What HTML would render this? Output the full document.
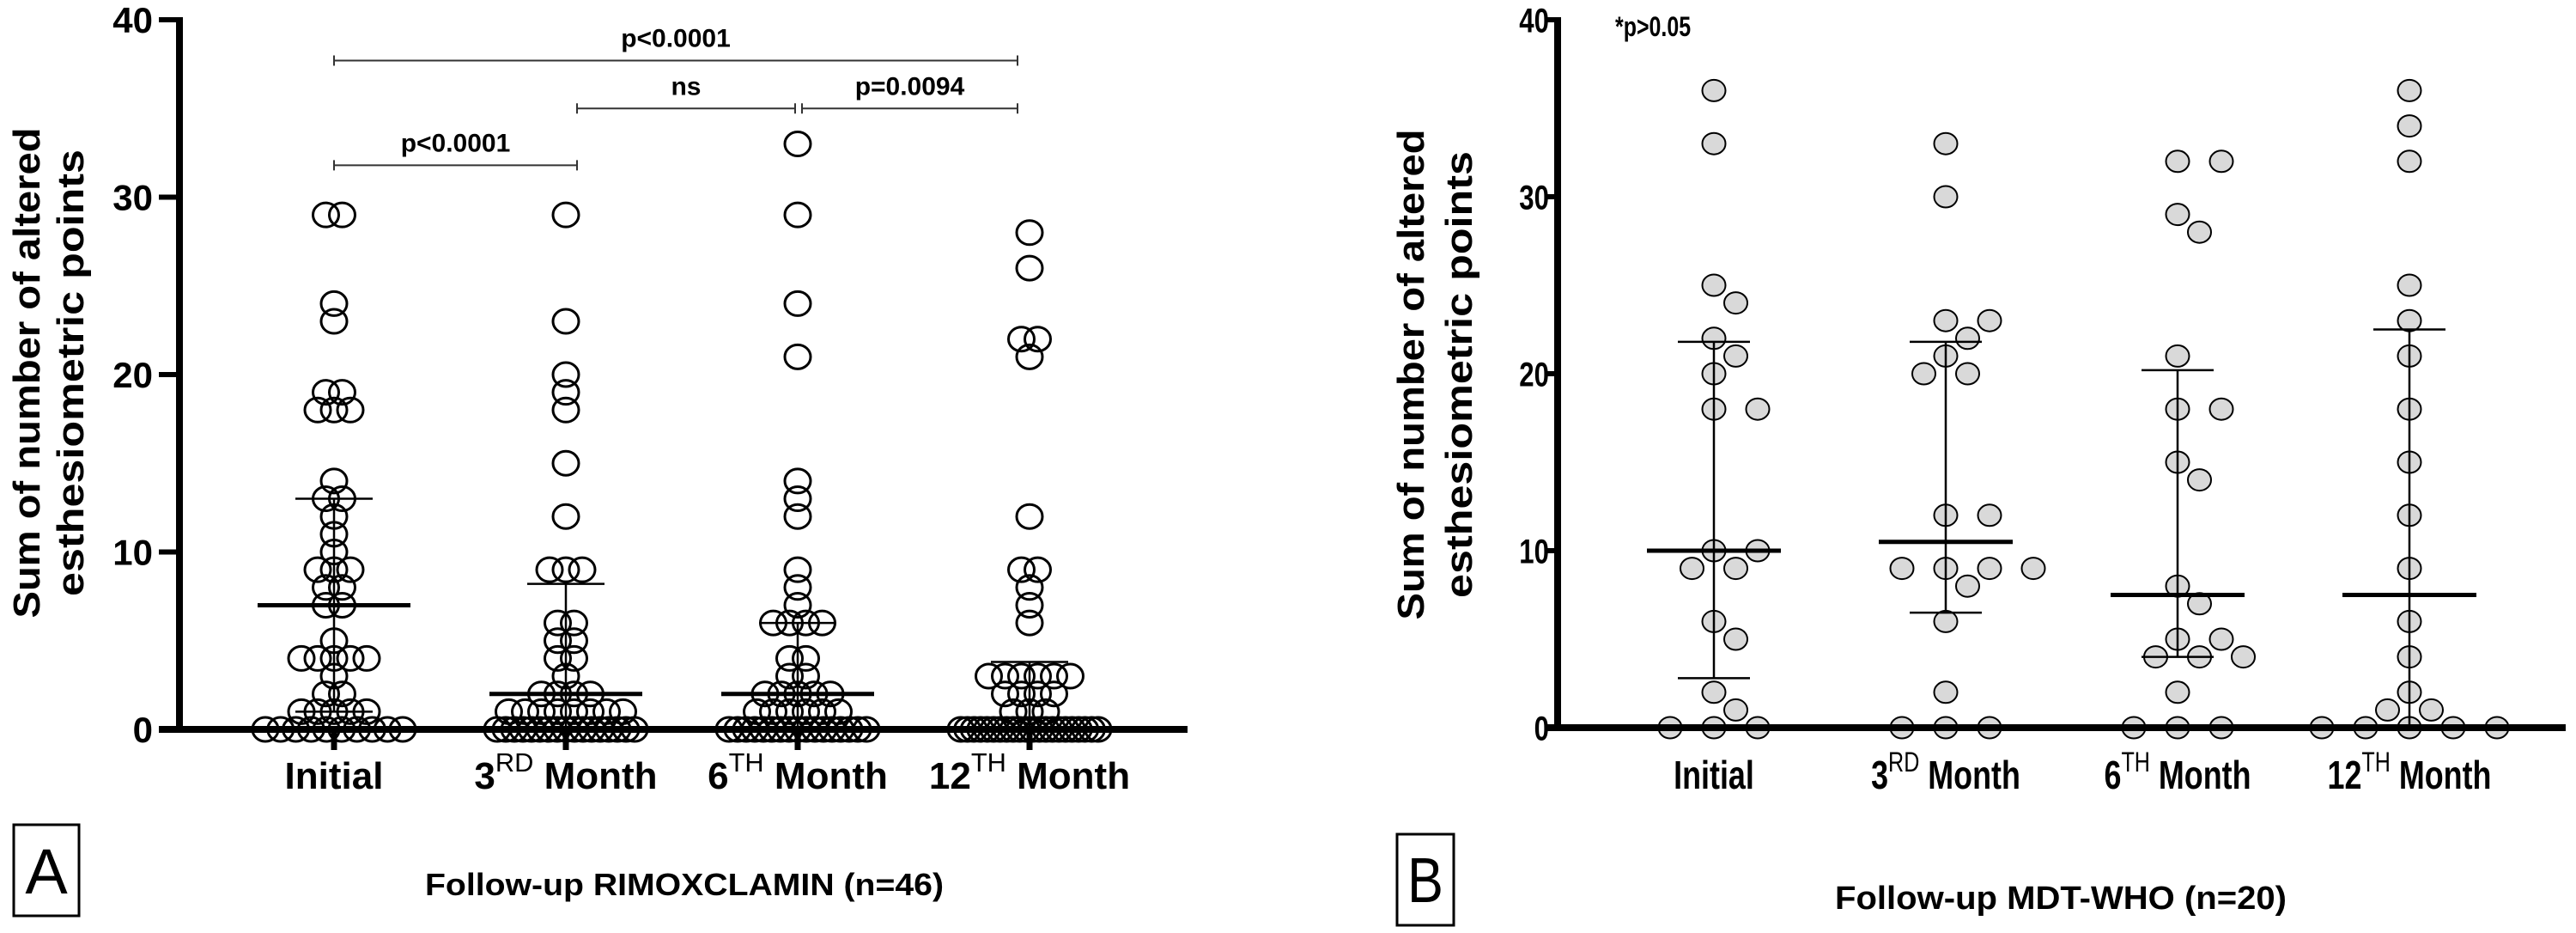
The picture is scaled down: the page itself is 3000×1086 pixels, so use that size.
<!DOCTYPE html>
<html><head><meta charset="utf-8">
<style>
html,body{margin:0;padding:0;background:#fff;}
svg{display:block;font-family:"Liberation Sans",Arial,sans-serif;}
</style></head>
<body>
<svg id="chart" width="3000" height="1086" viewBox="0 0 3000 1086">
  <rect x="0" y="0" width="3000" height="1086" fill="#fff"/>
  <g id="panelA"></g>
  <g id="panelB"></g>

  <rect x="16" y="960" width="76" height="106" fill="none" stroke="#000" stroke-width="3"/>
  <text x="54" y="1040" font-size="74" text-anchor="middle">A</text>
  <rect x="1627" y="971" width="66" height="106" fill="none" stroke="#000" stroke-width="3"/>
  <text x="1660" y="1050" font-size="74" text-anchor="middle" transform="translate(1660,0) scale(0.85,1) translate(-1660,0)">B</text>

  <text x="797" y="1042" font-size="36" font-weight="bold" text-anchor="middle" textLength="604" lengthAdjust="spacingAndGlyphs">Follow-up RIMOXCLAMIN (n=46)</text>
  <text x="2400" y="1058" font-size="38" font-weight="bold" text-anchor="middle" textLength="526" lengthAdjust="spacingAndGlyphs">Follow-up  MDT-WHO (n=20)</text>
</svg>
<script>
// ---------- DATA ----------
const categories = ["Initial", "3RD Month", "6TH Month", "12TH Month"];
const tickLabels = [0, 10, 20, 30, 40];

const rimoxInitial = [29,29,24,23,19,19,18,18,18,14,13,13,12,11,10,9,9,9,8,8,7,7,5,4,4,4,4,4,3,2,2,1,1,1,1,1,0,0,0,0,0,0,0,0,0,0];
const rimox3rd = [29,23,20,19,18,15,12,9,9,9,6,6,5,5,4,4,3,2,2,2,2,1,1,1,1,1,1,1,1,0,0,0,0,0,0,0,0,0,0,0,0,0,0,0,0,0];
const rimox6th = [33,29,24,21,14,13,12,9,8,7,6,6,6,6,4,4,3,3,2,2,2,2,2,1,1,1,1,1,1,0,0,0,0,0,0,0,0,0,0,0,0,0,0,0,0,0];
const rimox12th = [28,26,22,22,21,12,9,9,8,7,6,3,3,3,3,3,3,2,2,2,2,1,1,1,0,0,0,0,0,0,0,0,0,0,0,0,0,0,0,0,0,0,0,0,0,0];
const rimoxMedian = [7, 2, 2, 0];
const rimoxQ1 = [1, 0, 0, 0];
const rimoxQ3 = [13, 8.2, 6, 3.8];

const mdtInitial = [36,33,25,24,22,21,20,18,18,10,10,9,9,6,5,2,1,0,0,0];
const mdt3rd = [33,30,23,23,22,21,20,20,12,12,9,9,9,9,8,6,2,0,0,0];
const mdt6th = [32,32,29,28,21,18,18,15,14,8,7,5,5,4,4,4,2,0,0,0];
const mdt12th = [36,34,32,25,23,21,18,15,12,9,6,4,2,1,1,0,0,0,0,0];
const mdtMedian = [10, 10.5, 7.5, 7.5];
const mdtQ1 = [2.8, 6.5, 4, 0];
const mdtQ3 = [21.8, 21.8, 20.2, 22.5];

const sigLabels = ["p<0.0001", "ns", "p=0.0094", "p<0.0001"];
const sigFrom = [0, 1, 2, 0];
const sigTo = [1, 2, 3, 3];
const sigLevel = [31.8, 35.0, 35.0, 37.7];

// ---------- HELPERS ----------
const NS = "http://www.w3.org/2000/svg";
function mk(parent, tag, attrs, text) {
  const e = document.createElementNS(NS, tag);
  for (const k in attrs) e.setAttribute(k, attrs[k]);
  if (text !== undefined) e.textContent = text;
  parent.appendChild(e);
  return e;
}
// row layout: identical values share a row, centred, spacing shrinks to fit maxW
function rowLayout(vals, d, maxW) {
  const counts = {}, seen = {};
  vals.forEach(v => counts[v] = (counts[v] || 0) + 1);
  return vals.map(v => {
    const n = counts[v];
    const k = seen[v] = (seen[v] === undefined ? 0 : seen[v] + 1);
    if (n === 1) return 0;
    const s = Math.min(d, maxW / (n - 1));
    return (k - (n - 1) / 2) * s;
  });
}
function swarmLayout(ys, d, step) {
  const placed = [], xs = [];
  for (let i = 0; i < ys.length; i++) {
    let off = 0;
    for (let t = 0; t < 200; t++) {
      off = (t === 0) ? 0 : (t % 2 === 1 ? 1 : -1) * Math.ceil(t / 2) * step;
      let ok = true;
      for (const p of placed) {
        const dx = p[0] - off, dy = p[1] - ys[i];
        if (dx * dx + dy * dy < d * d - 0.01) { ok = false; break; }
      }
      if (ok) break;
    }
    placed.push([off, ys[i]]);
    xs.push(off);
  }
  return xs;
}

function drawPanel(cfg) {
  const g = document.getElementById(cfg.id);
  const y = v => cfg.y0 - (v / 40) * (cfg.y0 - cfg.y40);
  const x = i => cfg.cx0 + i * cfg.dx;

  const yt = mk(g, "text", {x: 0, y: 0, "font-size": 44, "font-weight": "bold", "text-anchor": "middle",
    transform: `translate(${cfg.titleX1},${cfg.titleY}) rotate(-90)`, textLength: 571, lengthAdjust: "spacingAndGlyphs"}, "Sum of number of altered");
  
  
  const yt2 = mk(g, "text", {x: 0, y: 0, "font-size": 44, "font-weight": "bold", "text-anchor": "middle",
    transform: `translate(${cfg.titleX2},${cfg.titleY}) rotate(-90)`, textLength: 520, lengthAdjust: "spacingAndGlyphs"}, "esthesiometric points");
  
  

  tickLabels.forEach(t => {
    const ln = mk(g, "line", {x1: cfg.axisX - cfg.tickLen, x2: cfg.axisX, y1: y(t), y2: y(t), stroke: "#000", "stroke-width": 6});
    
    
    const tx = mk(g, "text", {x: cfg.labelX, y: y(t) + cfg.tickFont * 0.36, "font-size": cfg.tickFont, "font-weight": "bold", "text-anchor": "end",
      transform: `translate(${cfg.labelX},0) scale(${cfg.sx},1) translate(${-cfg.labelX},0)`}, String(t));
    
    
  });

  cfg.series.forEach((vals, ci) => {
    const ys = vals.map(v => y(v));
    const offs = cfg.rows ? rowLayout(vals, cfg.d, cfg.maxW) : swarmLayout(ys, cfg.d, cfg.step);
    vals.forEach((v, j) => {
      const c = mk(g, "ellipse", {cx: x(ci) + offs[j], cy: ys[j], rx: cfg.rx, ry: cfg.ry, fill: cfg.fill, stroke: "#000", "stroke-width": cfg.sw});
      
      
    });
  });

  categories.forEach((c, i) => {
    const cx = x(i);
    const v = mk(g, "line", {x1: cx, x2: cx, y1: y(cfg.q1[i]), y2: y(cfg.q3[i]), stroke: "#000", "stroke-width": 2.5});
    
    
    [cfg.q1[i], cfg.q3[i]].forEach(q => {
      const w = mk(g, "line", {x1: cx - cfg.whisk, x2: cx + cfg.whisk, y1: y(q), y2: y(q), stroke: "#000", "stroke-width": 2.5});
      
      
    });
    const m = mk(g, "line", {x1: cx - cfg.medW, x2: cx + cfg.medW, y1: y(cfg.med[i]), y2: y(cfg.med[i]), stroke: "#000", "stroke-width": 5});
    
    
  });

  const ax = mk(g, "line", {x1: cfg.axisX, x2: cfg.axisX, y1: y(40) - 3, y2: y(0) + 4, stroke: "#000", "stroke-width": 8});
  
  
  const bx = mk(g, "line", {x1: cfg.axisX - cfg.tickLen, x2: cfg.axisEnd, y1: y(0), y2: y(0), stroke: "#000", "stroke-width": 8});
  
  

  categories.forEach((c, i) => {
    const cx = x(i);
    if (cfg.xticks) {
      const t = mk(g, "line", {x1: cx, x2: cx, y1: y(0), y2: y(0) + 24, stroke: "#000", "stroke-width": 7});
      
      
    }
    const parts = c.match(/^(\d+)(RD|TH)? ?(.*)$/);
    const lt = mk(g, "text", {x: cx, y: 918, "font-size": cfg.xFont, "font-weight": "bold", "text-anchor": "middle",
      transform: `translate(${cx},0) scale(${cfg.sx},1) translate(${-cx},0)`});
    
    
    if (parts && parts[2]) {
      mk(lt, "tspan", {}, parts[1]);
      mk(lt, "tspan", {dy: -20, "font-size": cfg.xFont * 0.7, "font-weight": "normal"}, parts[2]);
      mk(lt, "tspan", {dy: 20}, " " + parts[3]);
    } else {
      lt.textContent = c;
    }
  });
}

drawPanel({
  id: "panelA", axisX: 209, axisEnd: 1383, y0: 849, y40: 23, cx0: 389, dx: 270,
  tickLen: 24, labelX: 178, tickFont: 42, xFont: 44, sx: 1,
  titleX1: 46, titleX2: 97, titleY: 434,
  series: [rimoxInitial, rimox3rd, rimox6th, rimox12th],
  med: rimoxMedian, q1: rimoxQ1, q3: rimoxQ3,
  rx: 15, ry: 14, fill: "none", sw: 3, rows: true, d: 19, maxW: 160, whisk: 45, medW: 89, xticks: true
});
drawPanel({
  id: "panelB", axisX: 1814, axisEnd: 2988, y0: 847, y40: 23, cx0: 1996, dx: 270,
  tickLen: 12, labelX: 1804, tickFont: 40, xFont: 46, sx: 0.78,
  titleX1: 1658, titleX2: 1714, titleY: 436,
  series: [mdtInitial, mdt3rd, mdt6th, mdt12th],
  med: mdtMedian, q1: mdtQ1, q3: mdtQ3,
  rx: 13.5, ry: 12.5, fill: "#d9d9d9", sw: 2, rows: false, d: 26, step: 25.5, whisk: 42, medW: 78, xticks: false
});

(function () {
  const g = document.getElementById("panelA");
  const y = v => 849 - (v / 40) * 826;
  const xs = [389, 672, 929, 1185];
  sigLabels.forEach((lab, i) => {
    let x1 = xs[sigFrom[i]], x2 = xs[sigTo[i]];
    if (i === 2) x1 += 5;
    if (i === 1) x2 -= 3;
    const yy = y(sigLevel[i]);
    const b = mk(g, "path", {d: `M${x1},${yy - 6}V${yy + 6}M${x1},${yy}H${x2}M${x2},${yy - 6}V${yy + 6}`, stroke: "#333", "stroke-width": 2, fill: "none"});
    
    
    const t = mk(g, "text", {x: (x1 + x2) / 2, y: yy - 16, "font-size": 30, "font-weight": "bold", "text-anchor": "middle"}, lab);
    
    
  });
  const gb = document.getElementById("panelB");
  const n = mk(gb, "text", {x: 1881, y: 42, "font-size": 32, "font-weight": "bold",
    transform: "translate(1881,0) scale(0.78,1) translate(-1881,0)"}, "*p>0.05");
  
  
})();
</script>
</body></html>
